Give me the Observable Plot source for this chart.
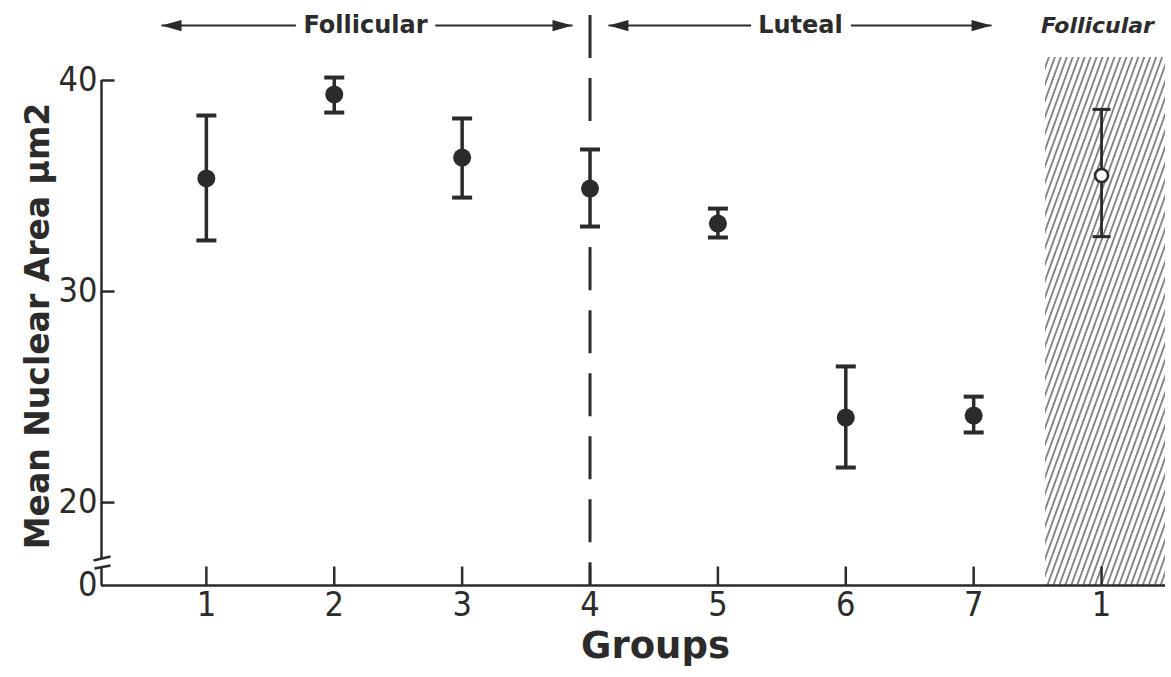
<!DOCTYPE html>
<html>
<head>
<meta charset="utf-8">
<script src="https://cdn.jsdelivr.net/npm/d3@7"></script>
<script src="https://cdn.jsdelivr.net/npm/@observablehq/plot@0.6"></script>
<style>
  html, body { margin: 0; padding: 0; background: #fff; }
  #chart svg { display: block; }
</style>
</head>
<body>
<div id="chart"></div>
<script>
// ---------- data ----------
const groupPos   = [1, 2, 3, 4, 5, 6, 7];
const groupMean  = [35.36, 39.34, 36.35, 34.88, 33.22, 24.03, 24.12];
const groupHi    = [38.34, 40.14, 38.20, 36.73, 33.93, 26.45, 25.02];
const groupLo    = [32.42, 38.48, 34.45, 33.08, 32.56, 21.66, 23.32];

const openPos  = [8];
const openMean = [35.5];
const openHi   = [38.63];
const openLo   = [32.6];

const xTickPos    = [1, 2, 3, 4, 5, 6, 7, 8];
const xTickLabels = ["1", "2", "3", "4", "5", "6", "7", "1"];
const yTickValues = [20, 30, 40];
const yBase = 16.07;          // the broken-axis origin, labelled "0"
const yTop  = 43.79;
const xMin = 0.18, xMax = 8.5;
const axisBreak = [17.30, 16.92];   // gap in the y axis line

const phaseLabels  = ["Follicular", "Luteal"];
const phaseCenters = [2.244, 5.646];
const phaseArrows  = [[0.649, 1.70, 2.79, 3.863], [4.144, 5.26, 6.04, 7.14]];
const annotY = 42.60;
const sideLabel = "Follicular";
const sideLabelX = 7.968;
const hatchX = [7.562, 8.5];
const hatchTop = 41.09;

const dividerX = 4;
const dividerSegments = [[43.08, 38.01], [32.08, yBase]];

const xTitle = "Groups";
const yTitle = "Mean Nuclear Area µm2";

// ---------- build tables ----------
const groups = groupPos.map((x, i) => ({x, mean: groupMean[i], hi: groupHi[i], lo: groupLo[i]}));
const openPts = openPos.map((x, i) => ({x, mean: openMean[i], hi: openHi[i], lo: openLo[i]}));
const arrowSegs = [];
const arrowTips = [];
phaseArrows.forEach(([a, b, c, d]) => {
  arrowSegs.push({x1: b, x2: a}, {x1: c, x2: d});
  arrowTips.push({x: a, rot: 180}, {x: d, rot: 0});
});
const dividers = dividerSegments.map(([y1, y2]) => ({y1, y2}));

const ink = "#2b2b2b";

// ---------- custom symbols ----------
const capSymbol = {draw(ctx, size) { const r = Math.sqrt(size / Math.PI); ctx.moveTo(-r, 0); ctx.lineTo(r, 0); }};
const yTickSymbol = {draw(ctx, size) { const r = Math.sqrt(size / Math.PI); ctx.moveTo(0, 0); ctx.lineTo(r, 0); }};
const xTickSymbol = {draw(ctx, size) { const r = Math.sqrt(size / Math.PI); ctx.moveTo(0, 0); ctx.lineTo(0, -r); }};
const headSymbol = {draw(ctx, size) { const r = Math.sqrt(size / Math.PI); ctx.moveTo(0, 0); ctx.lineTo(-r, -r * 0.28); ctx.lineTo(-r, r * 0.28); ctx.closePath(); }};
const breakSymbol = {draw(ctx) { ctx.moveTo(-8, -3); ctx.lineTo(9, -7); ctx.moveTo(-7, 5); ctx.lineTo(9, 2); }};

const numFont = "'Liberation Sans Narrow', 'DejaVu Sans Condensed', sans-serif";
const boldFont = "'DejaVu Sans', sans-serif";

const chart = Plot.plot({
  width: 1171,
  height: 677,
  marginLeft: 101,
  marginRight: 6,
  marginTop: 0,
  marginBottom: 92,
  style: {background: "#fff", color: ink, fontFamily: numFont, overflow: "visible"},
  x: {domain: [xMin, xMax], axis: null},
  y: {domain: [yBase, yTop], axis: null},
  marks: [
    // hatched region
    Plot.rect([{x1: hatchX[0], x2: hatchX[1], y1: yBase, y2: hatchTop}], {x1: "x1", x2: "x2", y1: "y1", y2: "y2", fill: "url(#hatch)"}),
    // dashed phase divider
    Plot.ruleX(dividers, {x: () => dividerX, y1: "y1", y2: "y2", stroke: ink, strokeWidth: 3, strokeDasharray: "43,20"}),
    // axes lines
    Plot.ruleY([yBase], {x1: xMin, x2: xMax, stroke: ink, strokeWidth: 2.5}),
    Plot.ruleX([xMin], {y1: 40, y2: axisBreak[0], stroke: ink, strokeWidth: 2.5}),
    Plot.ruleX([xMin], {y1: axisBreak[1], y2: yBase, stroke: ink, strokeWidth: 2.5}),
    Plot.dot([0], {x: () => xMin, y: () => (axisBreak[0] + axisBreak[1]) / 2, symbol: breakSymbol, r: 5, fill: "none", stroke: ink, strokeWidth: 2.5}),
    // tick marks
    Plot.dot(yTickValues, {x: () => xMin, y: d => d, symbol: yTickSymbol, r: 13, fill: "none", stroke: ink, strokeWidth: 2.5}),
    Plot.dot(xTickPos, {x: d => d, y: () => yBase, symbol: xTickSymbol, r: 19, fill: "none", stroke: ink, strokeWidth: 2.5}),
    // tick labels
    Plot.axisY([yBase, ...yTickValues], {anchor: "left", tickSize: 0, tickPadding: 4, fontSize: 34,
      tickFormat: d => d === yBase ? "0" : String(d), label: null}),
    Plot.axisX(xTickPos, {anchor: "bottom", tickSize: 0, tickPadding: 6, fontSize: 34,
      tickFormat: d => xTickLabels[xTickPos.indexOf(d)], label: null}),
    // axis titles
    Plot.text([xTitle], {frameAnchor: "bottom", dx: 22, dy: 72, fontSize: 37, fontWeight: "bold", fontFamily: boldFont}),
    Plot.text([yTitle], {frameAnchor: "left", textAnchor: "middle", rotate: -90, dx: -63, dy: 33, fontSize: 33, fontWeight: "bold", fontFamily: boldFont}),
    // phase annotations
    Plot.link(arrowSegs, {x1: "x1", x2: "x2", y1: () => annotY, y2: () => annotY, stroke: ink, strokeWidth: 2}),
    Plot.dot(arrowTips, {x: "x", y: () => annotY, rotate: "rot", symbol: headSymbol, r: 20, fill: ink, stroke: "none"}),
    Plot.text(phaseLabels, {x: (d, i) => phaseCenters[i], y: () => annotY, fontSize: 24, fontWeight: "bold", fontFamily: boldFont}),
    Plot.text([sideLabel], {x: () => sideLabelX, y: () => annotY, fontSize: 22, fontWeight: "bold", fontStyle: "italic", fontFamily: boldFont}),
    // error bars (filled groups)
    Plot.ruleX(groups, {x: "x", y1: "lo", y2: "hi", stroke: ink, strokeWidth: 3.5}),
    Plot.dot(groups, {x: "x", y: "hi", symbol: capSymbol, r: 10, fill: "none", stroke: ink, strokeWidth: 4}),
    Plot.dot(groups, {x: "x", y: "lo", symbol: capSymbol, r: 10, fill: "none", stroke: ink, strokeWidth: 4}),
    Plot.dot(groups, {x: "x", y: "mean", r: 9, fill: ink, stroke: "none"}),
    // open follicular point
    Plot.ruleX(openPts, {x: "x", y1: "lo", y2: "hi", stroke: ink, strokeWidth: 2.8}),
    Plot.dot(openPts, {x: "x", y: "hi", symbol: capSymbol, r: 9, fill: "none", stroke: ink, strokeWidth: 3}),
    Plot.dot(openPts, {x: "x", y: "lo", symbol: capSymbol, r: 9, fill: "none", stroke: ink, strokeWidth: 3}),
    Plot.dot(openPts, {x: "x", y: "mean", r: 6.5, fill: "#fff", stroke: ink, strokeWidth: 2.6})
  ]
});

// hatch pattern definition
const ns = "http://www.w3.org/2000/svg";
const defs = document.createElementNS(ns, "defs");
const pat = document.createElementNS(ns, "pattern");
pat.setAttribute("id", "hatch");
pat.setAttribute("patternUnits", "userSpaceOnUse");
pat.setAttribute("width", "5.6");
pat.setAttribute("height", "10");
pat.setAttribute("patternTransform", "rotate(20)");
const pl = document.createElementNS(ns, "line");
pl.setAttribute("x1", "2.8"); pl.setAttribute("y1", "0");
pl.setAttribute("x2", "2.8"); pl.setAttribute("y2", "10");
pl.setAttribute("stroke", ink); pl.setAttribute("stroke-width", "1.1");
pat.appendChild(pl);
defs.appendChild(pat);
chart.insertBefore(defs, chart.firstChild);

document.getElementById("chart").appendChild(chart);
</script>
</body>
</html>
